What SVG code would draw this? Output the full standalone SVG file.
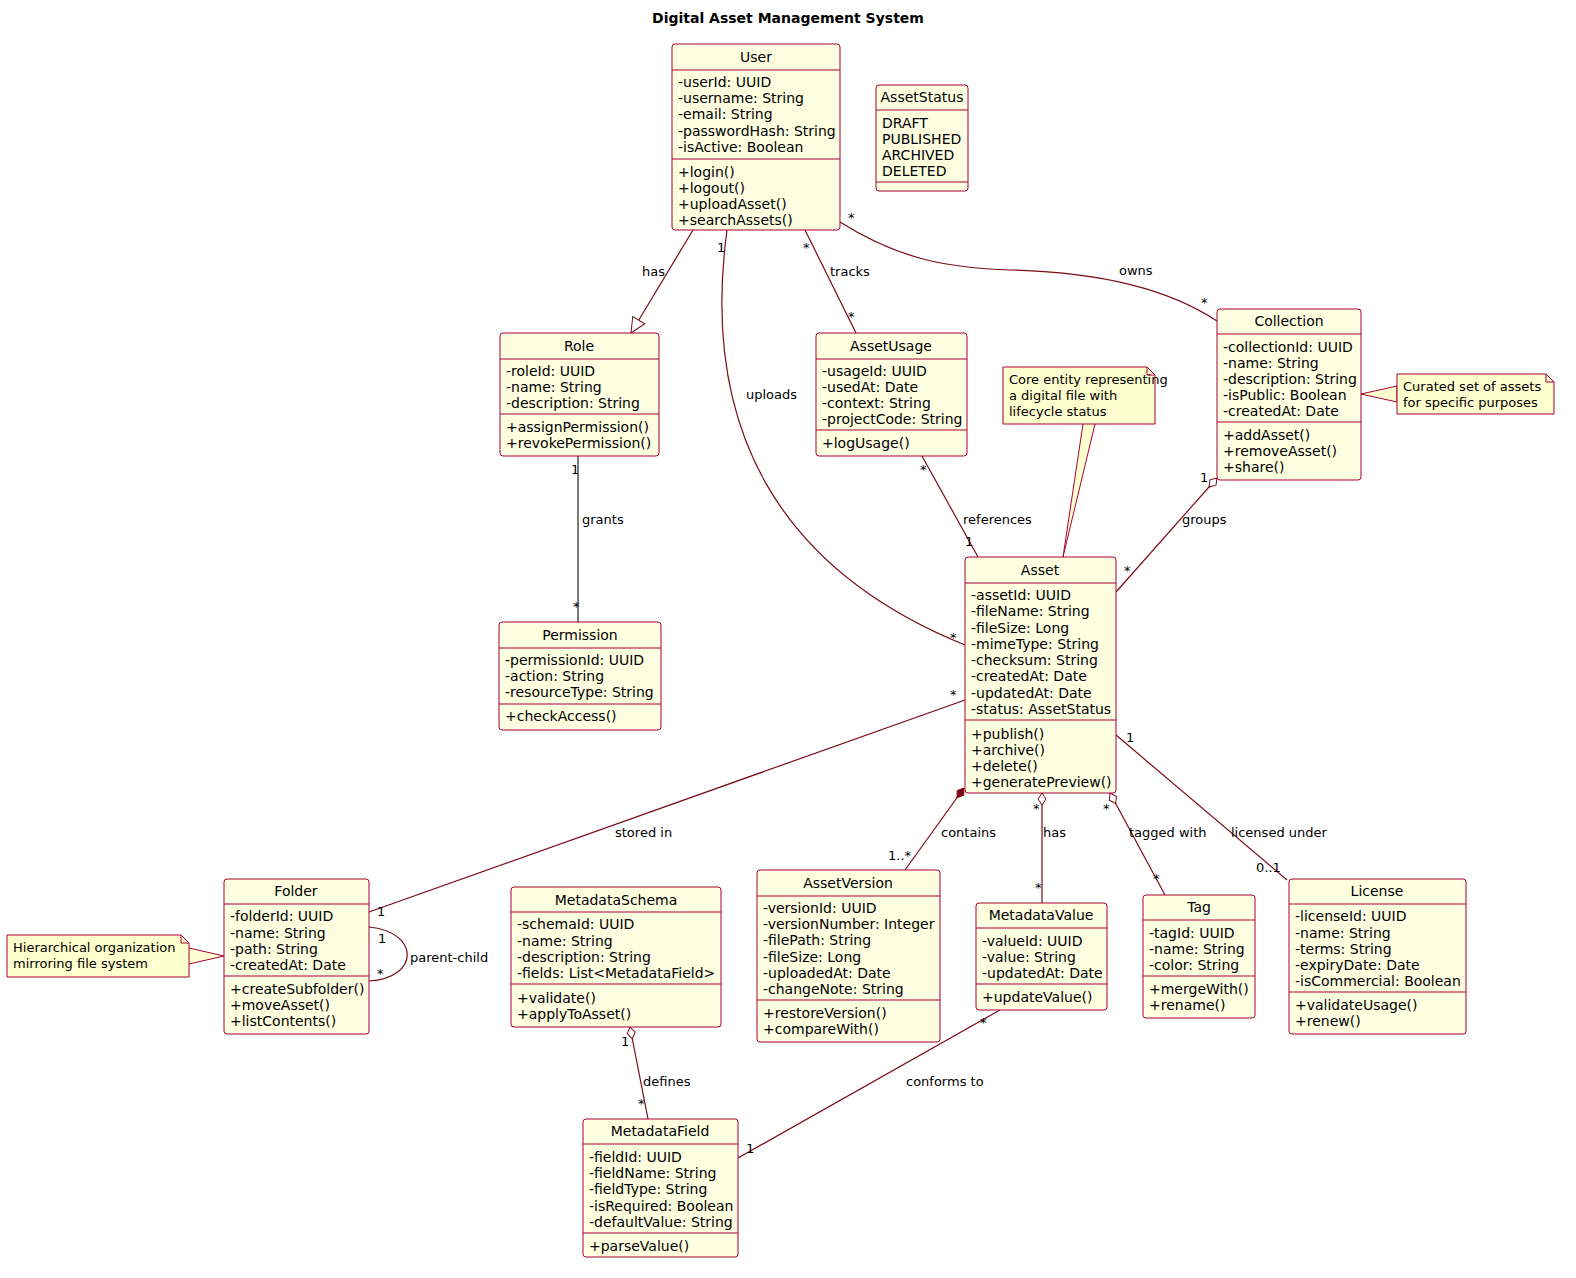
<svg xmlns="http://www.w3.org/2000/svg" width="1576" height="1278" viewBox="0 0 1576 1278">
<style>
text{font-family:"DejaVu Sans","Liberation Sans",sans-serif;font-size:14px;fill:#000}
.t{font-weight:bold;font-size:14px}
.h{text-anchor:middle}
.lb{font-size:13px}
.box{fill:#FEFEE0;stroke:#A80036;stroke-width:1}
.sep{stroke:#A80036;stroke-width:1}
.note{fill:#FBFB77;fill:#FEFECE;stroke:#A80036;stroke-width:1}
.c{fill:none;stroke:#7A0A16;stroke-width:1.2}
</style>
<defs>
<marker id="od" markerWidth="14" markerHeight="12" refX="0" refY="5" orient="auto" markerUnits="userSpaceOnUse"><path d="M0,5 L6,1 L12,5 L6,9 z" fill="#fff" stroke="#7A0A16"/></marker>
<marker id="fd" markerWidth="14" markerHeight="12" refX="0" refY="5" orient="auto" markerUnits="userSpaceOnUse"><path d="M0,5 L6,1 L12,5 L6,9 z" fill="#7A0A16" stroke="#7A0A16"/></marker>
<marker id="tri" markerWidth="18" markerHeight="16" refX="16" refY="8" orient="auto" markerUnits="userSpaceOnUse"><path d="M1,1 L16,8 L1,15 z" fill="#fff" stroke="#7A0A16"/></marker>
</defs>
<text class="t h" x="788" y="23">Digital Asset Management System</text>

<g id="connectors">
<path class="c" d="M693,230 L631,333" marker-end="url(#tri)"/>
<text class="lb" x="642" y="276">has</text>
<path class="c" d="M727,230 C700,430 780,570 965,645"/>
<text class="lb" x="717" y="252">1</text><text class="lb" x="950" y="642">*</text><text class="lb" x="746" y="399">uploads</text>
<path class="c" d="M805,230 L856,333"/>
<text class="lb" x="803" y="252">*</text><text class="lb" x="848" y="321">*</text><text class="lb" x="830" y="276">tracks</text>
<path class="c" d="M840,222 C900,260 950,268 1010,270 C1100,272 1170,290 1217,321"/>
<text class="lb" x="848" y="222">*</text><text class="lb" x="1201" y="307">*</text><text class="lb" x="1119" y="275">owns</text>
<path class="c" d="M578,456 L578,622" style="stroke:#222"/>
<text class="lb" x="571" y="474">1</text><text class="lb" x="573" y="611">*</text><text class="lb" x="582" y="524">grants</text>
<path class="c" d="M922,456 L978,557"/>
<text class="lb" x="920" y="474">*</text><text class="lb" x="965" y="546">1</text><text class="lb" x="963" y="524">references</text>
<path class="c" d="M1217,478 L1116,592" marker-start="url(#od)"/>
<text class="lb" x="1200" y="482">1</text><text class="lb" x="1124" y="575">*</text><text class="lb" x="1182" y="524">groups</text>
<path class="c" d="M965,700 L369,912"/>
<text class="lb" x="950" y="699">*</text><text class="lb" x="377" y="916">1</text><text class="lb" x="615" y="837">stored in</text>
<path class="c" d="M964,788 L905,870" marker-start="url(#fd)"/>
<text class="lb" x="888" y="860">1..*</text><text class="lb" x="941" y="837">contains</text>
<path class="c" d="M1042,793 L1042,903" marker-start="url(#od)"/>
<text class="lb" x="1033" y="813">*</text><text class="lb" x="1035" y="892">*</text><text class="lb" x="1043" y="837">has</text>
<path class="c" d="M1110,793 L1165,895" marker-start="url(#od)"/>
<text class="lb" x="1103" y="813">*</text><text class="lb" x="1153" y="883">*</text><text class="lb" x="1129" y="837">tagged with</text>
<path class="c" d="M1116,735 L1287,880"/>
<text class="lb" x="1126" y="742">1</text><text class="lb" x="1256" y="872">0..1</text><text class="lb" x="1231" y="837">licensed under</text>
<path class="c" d="M369,927 C420,932 420,978 369,981"/>
<text class="lb" x="378" y="943">1</text><text class="lb" x="377" y="978">*</text><text class="lb" x="410" y="962">parent-child</text>
<path class="c" d="M630,1027 L648,1119" marker-start="url(#od)"/>
<text class="lb" x="621" y="1046">1</text><text class="lb" x="638" y="1108">*</text><text class="lb" x="643" y="1086">defines</text>
<path class="c" d="M1000,1010 L738,1158"/>
<text class="lb" x="980" y="1027">*</text><text class="lb" x="746" y="1153">1</text><text class="lb" x="906" y="1086">conforms to</text>
<path class="c" d="M1361,394 L1397,386 L1397,402 z" style="fill:#FEFECE;stroke:#A80036;stroke-width:1"/>
<path d="M1083,424 L1063,557 L1095,424" style="fill:#FEFECE;stroke:#A80036;stroke-width:1"/>
<path d="M189,948 L224,956 L189,964" style="fill:#FEFECE;stroke:#A80036;stroke-width:1"/>
</g>

<g id="User"><rect class="box" x="672" y="44" width="168" height="186" rx="3"/><text class="h" x="756" y="62">User</text><line class="sep" x1="672" y1="70" x2="840" y2="70"/>
<text x="678" y="87">-userId: UUID</text><text x="678" y="103">-username: String</text><text x="678" y="119">-email: String</text><text x="678" y="136">-passwordHash: String</text><text x="678" y="152">-isActive: Boolean</text>
<line class="sep" x1="672" y1="159" x2="840" y2="159"/>
<text x="678" y="177">+login()</text><text x="678" y="193">+logout()</text><text x="678" y="209">+uploadAsset()</text><text x="678" y="225">+searchAssets()</text></g>

<g id="AssetStatus"><rect class="box" x="876" y="85" width="92" height="106" rx="3"/><text class="h" x="922" y="102">AssetStatus</text><line class="sep" x1="876" y1="110" x2="968" y2="110"/>
<text x="882" y="128">DRAFT</text><text x="882" y="144">PUBLISHED</text><text x="882" y="160">ARCHIVED</text><text x="882" y="176">DELETED</text><line class="sep" x1="876" y1="182" x2="968" y2="182"/></g>

<g id="Role"><rect class="box" x="500" y="333" width="159" height="123" rx="3"/><text class="h" x="579" y="351">Role</text><line class="sep" x1="500" y1="359" x2="659" y2="359"/>
<text x="506" y="376">-roleId: UUID</text><text x="506" y="392">-name: String</text><text x="506" y="408">-description: String</text><line class="sep" x1="500" y1="414" x2="659" y2="414"/>
<text x="506" y="432">+assignPermission()</text><text x="506" y="448">+revokePermission()</text></g>

<g id="AssetUsage"><rect class="box" x="816" y="333" width="151" height="123" rx="3"/><text class="h" x="891" y="351">AssetUsage</text><line class="sep" x1="816" y1="359" x2="967" y2="359"/>
<text x="822" y="376">-usageId: UUID</text><text x="822" y="392">-usedAt: Date</text><text x="822" y="408">-context: String</text><text x="822" y="424">-projectCode: String</text><line class="sep" x1="816" y1="430" x2="967" y2="430"/>
<text x="822" y="448">+logUsage()</text></g>

<g id="Collection"><rect class="box" x="1217" y="309" width="144" height="171" rx="3"/><text class="h" x="1289" y="326">Collection</text><line class="sep" x1="1217" y1="334" x2="1361" y2="334"/>
<text x="1223" y="352">-collectionId: UUID</text><text x="1223" y="368">-name: String</text><text x="1223" y="384">-description: String</text><text x="1223" y="400">-isPublic: Boolean</text><text x="1223" y="416">-createdAt: Date</text><line class="sep" x1="1217" y1="422" x2="1361" y2="422"/>
<text x="1223" y="440">+addAsset()</text><text x="1223" y="456">+removeAsset()</text><text x="1223" y="472">+share()</text></g>

<g id="NoteCollection"><path class="note" d="M1397,374 L1546,374 L1554,382 L1554,414 L1397,414 z"/><path d="M1546,374 L1546,382 L1554,382" fill="none" stroke="#A80036"/><text class="lb" x="1403" y="391">Curated set of assets</text><text class="lb" x="1403" y="407">for specific purposes</text></g>

<g id="NoteAsset"><path class="note" d="M1003,367 L1147,367 L1155,375 L1155,424 L1003,424 z"/><path d="M1147,367 L1147,375 L1155,375" fill="none" stroke="#A80036"/><text class="lb" x="1009" y="384">Core entity representing</text><text class="lb" x="1009" y="400">a digital file with</text><text class="lb" x="1009" y="416">lifecycle status</text></g>

<g id="Permission"><rect class="box" x="499" y="622" width="162" height="108" rx="3"/><text class="h" x="580" y="640">Permission</text><line class="sep" x1="499" y1="648" x2="661" y2="648"/>
<text x="505" y="665">-permissionId: UUID</text><text x="505" y="681">-action: String</text><text x="505" y="697">-resourceType: String</text><line class="sep" x1="499" y1="704" x2="661" y2="704"/>
<text x="505" y="721">+checkAccess()</text></g>

<g id="Asset"><rect class="box" x="965" y="557" width="151" height="236" rx="3"/><text class="h" x="1040" y="575">Asset</text><line class="sep" x1="965" y1="583" x2="1116" y2="583"/>
<text x="971" y="600">-assetId: UUID</text><text x="971" y="616">-fileName: String</text><text x="971" y="633">-fileSize: Long</text><text x="971" y="649">-mimeType: String</text><text x="971" y="665">-checksum: String</text><text x="971" y="681">-createdAt: Date</text><text x="971" y="698">-updatedAt: Date</text><text x="971" y="714">-status: AssetStatus</text>
<line class="sep" x1="965" y1="720" x2="1116" y2="720"/>
<text x="971" y="739">+publish()</text><text x="971" y="755">+archive()</text><text x="971" y="771">+delete()</text><text x="971" y="787">+generatePreview()</text></g>

<g id="Folder"><rect class="box" x="224" y="879" width="145" height="155" rx="3"/><text class="h" x="296" y="896">Folder</text><line class="sep" x1="224" y1="904" x2="369" y2="904"/>
<text x="230" y="921">-folderId: UUID</text><text x="230" y="938">-name: String</text><text x="230" y="954">-path: String</text><text x="230" y="970">-createdAt: Date</text><line class="sep" x1="224" y1="976" x2="369" y2="976"/>
<text x="230" y="994">+createSubfolder()</text><text x="230" y="1010">+moveAsset()</text><text x="230" y="1026">+listContents()</text></g>

<g id="NoteFolder"><path class="note" d="M7,935 L181,935 L189,943 L189,977 L7,977 z"/><path d="M181,935 L181,943 L189,943" fill="none" stroke="#A80036"/><text class="lb" x="13" y="952">Hierarchical organization</text><text class="lb" x="13" y="968">mirroring file system</text></g>

<g id="MetadataSchema"><rect class="box" x="511" y="887" width="210" height="140" rx="3"/><text class="h" x="616" y="905">MetadataSchema</text><line class="sep" x1="511" y1="912" x2="721" y2="912"/>
<text x="517" y="929">-schemaId: UUID</text><text x="517" y="946">-name: String</text><text x="517" y="962">-description: String</text><text x="517" y="978">-fields: List&lt;MetadataField&gt;</text><line class="sep" x1="511" y1="984" x2="721" y2="984"/>
<text x="517" y="1003">+validate()</text><text x="517" y="1019">+applyToAsset()</text></g>

<g id="AssetVersion"><rect class="box" x="757" y="870" width="183" height="172" rx="3"/><text class="h" x="848" y="888">AssetVersion</text><line class="sep" x1="757" y1="896" x2="940" y2="896"/>
<text x="763" y="913">-versionId: UUID</text><text x="763" y="929">-versionNumber: Integer</text><text x="763" y="945">-filePath: String</text><text x="763" y="962">-fileSize: Long</text><text x="763" y="978">-uploadedAt: Date</text><text x="763" y="994">-changeNote: String</text><line class="sep" x1="757" y1="1000" x2="940" y2="1000"/>
<text x="763" y="1018">+restoreVersion()</text><text x="763" y="1034">+compareWith()</text></g>

<g id="MetadataValue"><rect class="box" x="976" y="903" width="131" height="107" rx="3"/><text class="h" x="1041" y="920">MetadataValue</text><line class="sep" x1="976" y1="928" x2="1107" y2="928"/>
<text x="982" y="946">-valueId: UUID</text><text x="982" y="962">-value: String</text><text x="982" y="978">-updatedAt: Date</text><line class="sep" x1="976" y1="984" x2="1107" y2="984"/>
<text x="982" y="1002">+updateValue()</text></g>

<g id="Tag"><rect class="box" x="1143" y="895" width="112" height="123" rx="3"/><text class="h" x="1199" y="912">Tag</text><line class="sep" x1="1143" y1="920" x2="1255" y2="920"/>
<text x="1149" y="938">-tagId: UUID</text><text x="1149" y="954">-name: String</text><text x="1149" y="970">-color: String</text><line class="sep" x1="1143" y1="976" x2="1255" y2="976"/>
<text x="1149" y="994">+mergeWith()</text><text x="1149" y="1010">+rename()</text></g>

<g id="License"><rect class="box" x="1289" y="879" width="177" height="155" rx="3"/><text class="h" x="1377" y="896">License</text><line class="sep" x1="1289" y1="904" x2="1466" y2="904"/>
<text x="1295" y="921">-licenseId: UUID</text><text x="1295" y="938">-name: String</text><text x="1295" y="954">-terms: String</text><text x="1295" y="970">-expiryDate: Date</text><text x="1295" y="986">-isCommercial: Boolean</text><line class="sep" x1="1289" y1="992" x2="1466" y2="992"/>
<text x="1295" y="1010">+validateUsage()</text><text x="1295" y="1026">+renew()</text></g>

<g id="MetadataField"><rect class="box" x="583" y="1119" width="155" height="138" rx="3"/><text class="h" x="660" y="1136">MetadataField</text><line class="sep" x1="583" y1="1144" x2="738" y2="1144"/>
<text x="589" y="1162">-fieldId: UUID</text><text x="589" y="1178">-fieldName: String</text><text x="589" y="1194">-fieldType: String</text><text x="589" y="1211">-isRequired: Boolean</text><text x="589" y="1227">-defaultValue: String</text><line class="sep" x1="583" y1="1233" x2="738" y2="1233"/>
<text x="589" y="1251">+parseValue()</text></g>
</svg>
